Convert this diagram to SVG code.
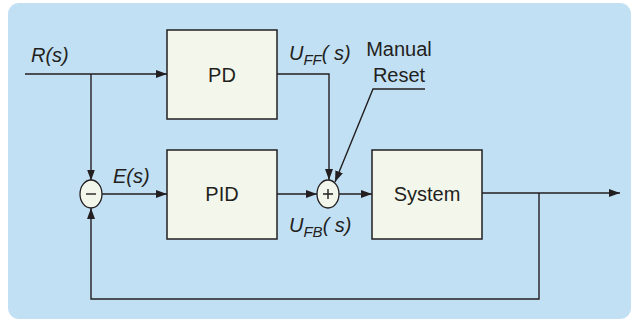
<svg xmlns="http://www.w3.org/2000/svg" width="634" height="321" viewBox="0 0 634 321">
<defs>
<marker id="ah" viewBox="0 0 11 8" refX="11" refY="4" markerWidth="11" markerHeight="8" markerUnits="userSpaceOnUse" orient="auto">
<path d="M0,0 L11,4 L0,8 Z" fill="#231f20"/>
</marker>
</defs>
<style>
.box{fill:#f3f7eb;stroke:#231f20;stroke-width:1.5}
.sum{fill:#f3f7eb;stroke:#231f20;stroke-width:1.3}
.ln{fill:none;stroke:#231f20;stroke-width:1.4}
.t{font-family:"Liberation Sans",Arial,sans-serif;font-size:20px;fill:#231f20}
.i{font-style:italic}
.sub{font-size:15px}
</style>
<rect width="634" height="321" fill="#ffffff"/>
<rect x="8" y="3" width="623" height="316" rx="11" fill="#c2e0f4"/>
<g id="connectors">
<path class="ln" d="M25,74 H167" marker-end="url(#ah)"/>
<path class="ln" d="M91,74 V180.5" marker-end="url(#ah)"/>
<path class="ln" d="M101.5,194 H167" marker-end="url(#ah)"/>
<path class="ln" d="M277,74 H329 V180" marker-end="url(#ah)"/>
<path class="ln" d="M277,194 H317" marker-end="url(#ah)"/>
<path class="ln" d="M339,194 H372" marker-end="url(#ah)"/>
<path class="ln" d="M482,193 H620" marker-end="url(#ah)"/>
<path class="ln" d="M539,193 V299 H91 V208" marker-end="url(#ah)"/>
<path class="ln" d="M425,89 H373 L335,182" marker-end="url(#ah)"/>
</g>
<g id="pd">
<rect class="box" x="167" y="30" width="110" height="89"/>
<text class="t" x="222" y="82" text-anchor="middle">PD</text>
</g>
<g id="pid">
<rect class="box" x="167" y="150" width="110" height="89"/>
<text class="t" x="222" y="201" text-anchor="middle">PID</text>
</g>
<g id="system">
<rect class="box" x="372" y="150" width="110" height="89"/>
<text class="t" x="427" y="201" text-anchor="middle">System</text>
</g>
<g id="sum-minus">
<ellipse class="sum" cx="91" cy="194" rx="11" ry="14"/>
<path class="ln" d="M86,194 H96" stroke-width="1.3"/>
</g>
<g id="sum-plus">
<ellipse class="sum" cx="328" cy="194" rx="11" ry="14"/>
<path class="ln" d="M323,194 H333 M328,189 V199" stroke-width="1.3"/>
</g>
<g id="labels">
<text class="t i" x="31" y="62">R(s)</text>
<text class="t i" x="113" y="182.5">E(s)</text>
<text class="t i" x="289" y="60">U<tspan class="sub" dy="5">FF</tspan><tspan dy="-5">( s)</tspan></text>
<text class="t i" x="289" y="231.5">U<tspan class="sub" dy="5">FB</tspan><tspan dy="-5">( s)</tspan></text>
<text class="t" x="399" y="56" text-anchor="middle">Manual</text>
<text class="t" x="399" y="81.5" text-anchor="middle">Reset</text>
</g>
</svg>
